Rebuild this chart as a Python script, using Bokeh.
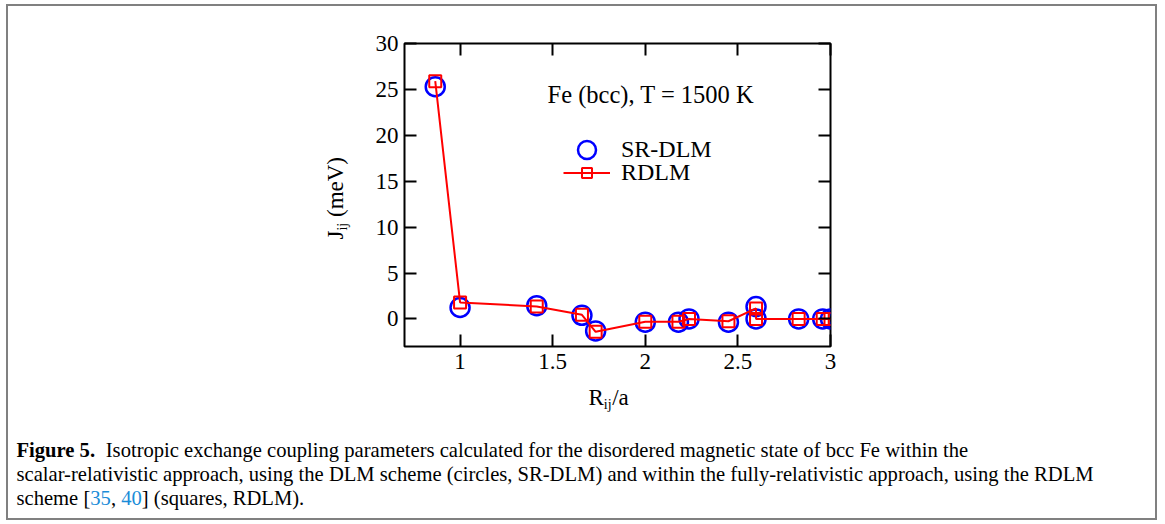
import math
from bokeh.plotting import figure
from bokeh.models import (Range1d, FixedTicker, LinearAxis, Label, Legend, LegendItem)
from bokeh.embed import file_html
from bokeh.resources import INLINE

# ---------------- data ----------------
r_over_a = [0.866, 1.0, 1.414, 1.658, 1.732, 2.0, 2.179, 2.236, 2.449, 2.598, 2.598, 2.828, 2.958, 3.0]
j_srdlm = [25.3, 1.25, 1.45, 0.4, -1.3, -0.35, -0.35, 0.0, -0.35, 1.35, 0.0, 0.0, 0.0, 0.0]
j_rdlm = [25.9, 1.8, 1.35, 0.45, -1.4, -0.3, -0.3, 0.0, -0.25, 1.15, 0.0, 0.0, 0.0, 0.0]
x_ticks = [1, 1.5, 2, 2.5, 3]
x_tick_labels = ["1", "1.5", "2", "2.5", "3"]
y_ticks = [0, 5, 10, 15, 20, 25, 30]
y_tick_labels = ["0", "5", "10", "15", "20", "25", "30"]
series_names = ["SR-DLM", "RDLM"]
annotation = "Fe (bcc), T = 1500 K"
caption_bold = "Figure 5."
caption_l1 = "Isotropic exchange coupling parameters calculated for the disordered magnetic state of bcc Fe within the"
caption_l2 = "scalar-relativistic approach, using the DLM scheme (circles, SR-DLM) and within the fully-relativistic approach, using the RDLM"
caption_l3 = ["scheme [", "35", ", ", "40", "] (squares, RDLM)."]

SERIF = "Liberation Serif"
OX, OY = 8, 6                    # canvas offset inside the gray page border
W, H = 1151, 516                 # canvas size
FL, FT, FR, FB = 404, 43, 830, 346   # frame edges in page pixels
X0, X1, Y0, Y1 = 0.7, 3.0, -3.0, 30.0

# Times-compatible advance widths (per 1000 em)
TW = {' ': 250, '(': 333, ')': 333, ',': 250, '-': 333, '.': 250, '/': 278, '[': 333, ']': 333, '=': 564,
      'A': 722, 'B': 667, 'C': 667, 'D': 722, 'E': 611, 'F': 556, 'G': 722, 'H': 722, 'I': 333, 'J': 389,
      'K': 722, 'L': 611, 'M': 889, 'N': 722, 'O': 722, 'P': 556, 'Q': 722, 'R': 667, 'S': 556, 'T': 611,
      'U': 722, 'V': 722, 'W': 944, 'X': 722, 'Y': 722, 'Z': 611,
      'a': 444, 'b': 500, 'c': 444, 'd': 500, 'e': 444, 'f': 333, 'g': 500, 'h': 500, 'i': 278, 'j': 278,
      'k': 500, 'l': 278, 'm': 778, 'n': 500, 'o': 500, 'p': 500, 'q': 500, 'r': 333, 's': 389, 't': 278,
      'u': 500, 'v': 500, 'w': 722, 'x': 500, 'y': 500, 'z': 444}
TWB = dict(TW, **{'F': 611, 'u': 556, 'r': 444, 'e': 444})


def tw(s, size, bold=False):
    tab = TWB if bold else TW
    return sum(tab.get(ch, 500) for ch in s) * size / 1000.0


def xd(px):   # page pixel -> data x
    return X0 + (px - FL) * (X1 - X0) / (FR - FL)


def yd(py):   # page pixel -> data y
    return Y1 - (py - FT) * (Y1 - Y0) / (FB - FT)


def sx(px):   # page pixel -> frame-relative screen x
    return px - FL


def sy(py):
    return FB - py


p = figure(width=W, height=H, output_backend="svg", toolbar_location=None,
           x_range=Range1d(X0, X1), y_range=Range1d(Y0, Y1),
           min_border_left=FL - OX, min_border_right=W - (FR - OX),
           min_border_top=FT - OY, min_border_bottom=H - (FB - OY),
           styles={"margin-left": "6px", "margin-top": "4px", "border": "2px solid #808080"})
p.background_fill_color = "white"
p.border_fill_color = "white"
p.grid.visible = False
p.outline_line_color = "black"
p.outline_line_width = 2

for ax, ticks, labels in ((p.xaxis[0], x_ticks, x_tick_labels), (p.yaxis[0], y_ticks, y_tick_labels)):
    ax.ticker = FixedTicker(ticks=ticks)
    ax.major_label_overrides = {t: l for t, l in zip(ticks, labels)}
    ax.major_tick_in = 12
    ax.major_tick_out = 0
    ax.major_tick_line_width = 2
    ax.minor_tick_line_color = None
    ax.axis_line_color = None
    ax.major_label_text_font = SERIF
    ax.major_label_text_font_size = "23px"
    ax.major_label_text_color = "black"
p.xaxis[0].major_label_standoff = 7
p.yaxis[0].major_label_standoff = 6

for loc, ticks in (("above", x_ticks), ("right", y_ticks)):
    ax = LinearAxis(ticker=FixedTicker(ticks=ticks), major_label_overrides={t: "" for t in ticks},
                    major_tick_in=12, major_tick_out=0, major_tick_line_width=2,
                    minor_tick_line_color=None, axis_line_color=None,
                    major_label_standoff=0, major_label_text_font_size="1px")
    p.add_layout(ax, loc)

# data marks
circ = p.scatter(r_over_a, j_srdlm, marker="circle", size=19, fill_color=None,
                 line_color="#0000ff", line_width=2.5)
ln = p.line(r_over_a, j_rdlm, line_color="#ff0000", line_width=2)
sq = p.scatter(r_over_a, j_rdlm, marker="square", size=12, fill_color=None,
               line_color="#ff0000", line_width=2)

common = dict(orientation="vertical", glyph_width=47, label_standoff=11, spacing=0, padding=0,
              margin=0, border_line_color=None, background_fill_alpha=0,
              label_text_font=SERIF, label_text_font_size="24px", label_text_color="black",
              label_height=20)
leg1 = Legend(items=[LegendItem(label=series_names[0], renderers=[circ])], glyph_height=45,
              location=(sx(563), sy(171.5)), **common)
leg2 = Legend(items=[LegendItem(label=series_names[1], renderers=[ln, sq])], glyph_height=25,
              location=(sx(563), sy(186)), **common)
p.add_layout(leg1)
p.add_layout(leg2)


def lab(text, x, y, side, size="22px", color="black", style="normal", angle=0.0):
    p.add_layout(Label(x=xd(x), y=yd(y), x_units="data", y_units="data", text=text,
                       text_font=SERIF, text_font_size=size, text_color=color,
                       text_font_style=style, text_baseline="alphabetic", text_align="left",
                       angle=angle), side)


lab(annotation, 547, 94, "center", size="24.5px")

# x axis label R_ij/a
lab("R", 588, 397, "right", size="23px")
rx = 588 + tw("R", 23)
lab("ij", rx, 404, "right", size="14px")
lab("/a", rx + tw("ij", 14) + 0.5, 397, "right", size="23px")

# y axis label J_ij (meV), rotated
jy = 239
lab("J", 335, jy, "right", size="23px", angle=math.pi / 2)
jy2 = jy - tw("J", 23)
lab("ij", 342, jy2, "right", size="14px", angle=math.pi / 2)
lab("(meV)", 335, jy2 - tw("ij", 14) - tw(" ", 23), "right", size="23px", angle=math.pi / 2)

# caption
CS = round(0.95 * 1134 / (tw(caption_l2, 1000) / 1000.0), 1)
cs = f"{CS}px"
lab(caption_bold, 16, 449, "below", size=cs, style="bold")
lab(caption_l1, 16 + tw(caption_bold + "  ", CS, bold=True), 449, "below", size=cs)
lab(caption_l2, 16, 473, "below", size=cs)
x = 16
for i, piece in enumerate(caption_l3):
    lab(piece, x, 497, "left", size=cs, color="#1a8cd8" if i in (1, 3) else "black")
    x += tw(piece, CS)

open("out.html", "w").write(file_html(p, INLINE))
